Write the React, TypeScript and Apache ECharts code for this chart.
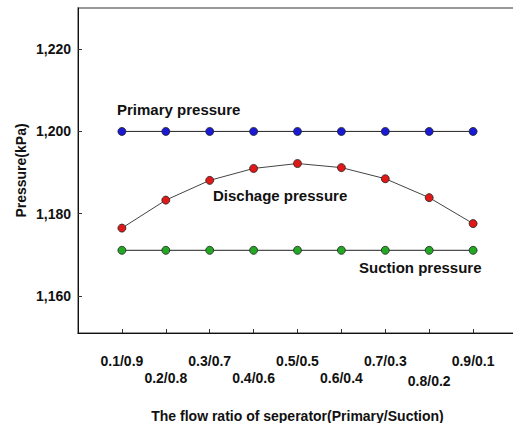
import React, { useEffect, useRef } from "react";
import * as echarts from "echarts";

const ratioLabels = ["0.1/0.9", "0.2/0.8", "0.3/0.7", "0.4/0.6", "0.5/0.5", "0.6/0.4", "0.7/0.3", "0.8/0.2", "0.9/0.1"];
const positions = [1, 2, 3, 4, 5, 6, 7, 8, 9];
const primaryPressure = [1200, 1200, 1200, 1200, 1200, 1200, 1200, 1200, 1200];
const dischargePressure = [1176.5, 1183.3, 1188.1, 1191.0, 1192.2, 1191.2, 1188.5, 1183.9, 1177.6];
const suctionPressure = [1171.1, 1171.1, 1171.1, 1171.1, 1171.1, 1171.1, 1171.1, 1171.1, 1171.1];
const yTicks = [1160, 1180, 1200, 1220];

const FONT = "'Liberation Sans', Arial, sans-serif";

export default function App() {
  const ref = useRef<HTMLDivElement>(null);
  useEffect(() => {
    if (!ref.current) return;
    const chart = echarts.init(ref.current, undefined, { renderer: "svg" });
    const mk = (vals: number[]) => positions.map((p, i) => [p, vals[i]]);
    const seriesBase = (name: string, vals: number[], color: string, lineColor: string) => ({
      name,
      type: "line",
      data: mk(vals),
      symbol: "circle",
      symbolSize: 8,
      itemStyle: { color, borderColor: "#222", borderWidth: 0.8 },
      lineStyle: { color: lineColor, width: 1 },
      z: 3,
    });
    const labelFont = { fontFamily: FONT, fontWeight: "bold", fontSize: 14, color: "#111" };
    chart.setOption({
      animation: false,
      backgroundColor: "#fff",
      grid: {
        left: 78,
        top: 8,
        right: -4,
        bottom: 90,
        outerBoundsMode: "none",
        containLabel: false,
        show: true,
        borderColor: "#777",
        borderWidth: 1.5,
      },
      xAxis: {
        type: "value",
        min: 0,
        max: 10,
        name: "The flow ratio of seperator(Primary/Suction)",
        nameLocation: "middle",
        nameGap: 76,
        nameMoveOverlap: false,
        nameTextStyle: { fontFamily: FONT, fontWeight: "bold", fontSize: 14, color: "#111" },
        axisLine: { show: true, lineStyle: { color: "#111", width: 1 } },
        axisTick: {
          show: true,
          inside: true,
          length: 4,
          customValues: positions,
          lineStyle: { color: "#333" },
        },
        splitLine: { show: false },
        axisLabel: {
          customValues: positions,
          hideOverlap: false,
          margin: 19,
          ...labelFont,
          lineHeight: 17,
          formatter: (v: number) => {
            const i = Math.round(v) - 1;
            const t = ratioLabels[i] ?? "";
            if (i % 2 === 1) return i === 7 ? "\n{low|" + t + "}" : "\n" + t;
            return t;
          },
          rich: {
            low: { ...labelFont, lineHeight: 17, padding: [6, 0, 0, 0] },
          },
        },
      },
      yAxis: {
        type: "value",
        min: 1151,
        max: 1230,
        name: "Pressure(kPa)",
        nameLocation: "middle",
        nameGap: 50,
        nameMoveOverlap: false,
        nameTextStyle: { fontFamily: FONT, fontWeight: "bold", fontSize: 14, color: "#111" },
        axisLine: { show: true, lineStyle: { color: "#111", width: 1 } },
        axisTick: {
          show: true,
          inside: true,
          length: 4,
          customValues: yTicks,
          lineStyle: { color: "#333" },
        },
        splitLine: { show: false },
        axisLabel: {
          customValues: yTicks,
          margin: 7,
          fontFamily: FONT,
          fontWeight: "bold",
          fontSize: 14,
          color: "#111",
          formatter: (v: number) => v.toLocaleString("en-US"),
        },
      },
      series: [
        seriesBase("Primary pressure", primaryPressure, "#1a1ad6", "#222"),
        seriesBase("Dischage pressure", dischargePressure, "#e01818", "#444"),
        seriesBase("Suction pressure", suctionPressure, "#22a822", "#222"),
      ],
      graphic: [
        {
          type: "text",
          left: 117,
          top: 102,
          style: { text: "Primary pressure", font: "bold 15px " + FONT, fill: "#111" },
        },
        {
          type: "text",
          left: 213,
          top: 188,
          style: { text: "Dischage pressure", font: "bold 15px " + FONT, fill: "#111" },
        },
        {
          type: "text",
          left: 359,
          top: 260,
          style: { text: "Suction pressure", font: "bold 15px " + FONT, fill: "#111" },
        },
      ],
    });
    return () => chart.dispose();
  }, []);
  return (
    <div
      ref={ref}
      style={{ position: "fixed", left: 0, top: 0, width: 513, height: 423, background: "#fff" }}
    />
  );
}
